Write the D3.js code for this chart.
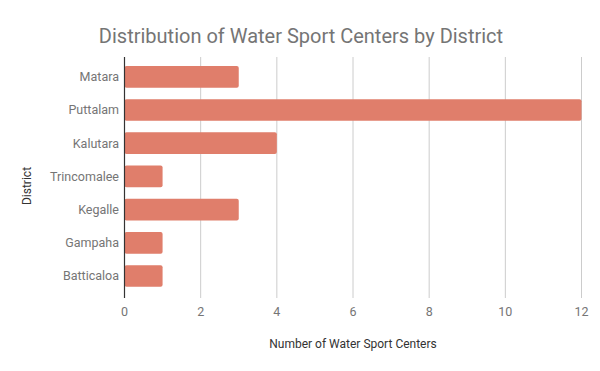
<!DOCTYPE html>
<html lang="en">
<head>
    <meta charset="UTF-8">
    <title>Distribution of Water Sport Centers by District</title>
    <style>
        body { margin: 0; background: #fff; }
        svg text { font-family: Roboto, "Noto Sans", sans-serif; }
    </style>
</head>
<body>
    <div id="chart"></div>
    <script src="https://d3js.org/d3.v7.min.js"></script>
    <script>
        // Data
        var districts = ["Matara", "Puttalam", "Kalutara", "Trincomalee", "Kegalle", "Gampaha", "Batticaloa"];
        var centers = [3, 12, 4, 1, 3, 1, 1];
        var xTicks = [0, 2, 4, 6, 8, 10, 12];

        var width = 600, height = 371;
        var plotTop = 57, plotBottom = 298;
        var plotLeft = 124.5, plotRight = 581.5;

        var svg = d3.select("#chart").append("svg")
            .attr("width", width)
            .attr("height", height);

        var x = d3.scaleLinear().domain([0, 12]).range([plotLeft, plotRight]);
        var y = d3.scaleBand().domain(districts).range([60.2, 292.6]).paddingInner(0.346).paddingOuter(0.173);

        // gridlines
        svg.selectAll("line.grid")
            .data(xTicks.slice(1))
            .enter().append("line")
            .attr("class", "grid")
            .attr("x1", function(d) { return x(d); })
            .attr("x2", function(d) { return x(d); })
            .attr("y1", plotTop)
            .attr("y2", plotBottom)
            .attr("stroke", "#cccccc")
            .attr("stroke-width", 1);

        // bars
        svg.selectAll("rect.bar")
            .data(districts)
            .enter().append("rect")
            .attr("class", "bar")
            .attr("x", x(0))
            .attr("y", function(d) { return y(d); })
            .attr("width", function(d, i) { return x(centers[i]) - x(0); })
            .attr("height", y.bandwidth())
            .attr("rx", 2)
            .attr("fill", "#e07e6b");

        // baseline
        svg.append("line")
            .attr("x1", x(0)).attr("x2", x(0))
            .attr("y1", plotTop).attr("y2", plotBottom)
            .attr("stroke", "#333333")
            .attr("stroke-width", 1.2);

        // x tick labels
        svg.selectAll("text.xtick")
            .data(xTicks)
            .enter().append("text")
            .attr("class", "xtick")
            .attr("x", function(d) { return x(d); })
            .attr("y", 316)
            .attr("text-anchor", "middle")
            .attr("font-size", 12.5)
            .attr("fill", "#757575")
            .text(function(d) { return d; });

        // category labels
        svg.selectAll("text.ytick")
            .data(districts)
            .enter().append("text")
            .attr("class", "ytick")
            .attr("x", 119)
            .attr("y", function(d) { return y(d) + y.bandwidth() / 2; })
            .attr("dy", "0.35em")
            .attr("text-anchor", "end")
            .attr("font-size", 12.5)
            .attr("fill", "#757575")
            .text(function(d) { return d; });

        // title
        svg.append("text")
            .attr("x", 301)
            .attr("y", 43)
            .attr("text-anchor", "middle")
            .attr("font-size", 20)
            .attr("fill", "#757575")
            .text("Distribution of Water Sport Centers by District");

        // axis titles
        svg.append("text")
            .attr("x", 353)
            .attr("y", 348)
            .attr("text-anchor", "middle")
            .attr("font-size", 12)
            .attr("fill", "#333333")
            .text("Number of Water Sport Centers");

        svg.append("text")
            .attr("transform", "translate(31,186) rotate(-90)")
            .attr("text-anchor", "middle")
            .attr("font-size", 12)
            .attr("fill", "#333333")
            .text("District");
    </script>
</body>
</html>
